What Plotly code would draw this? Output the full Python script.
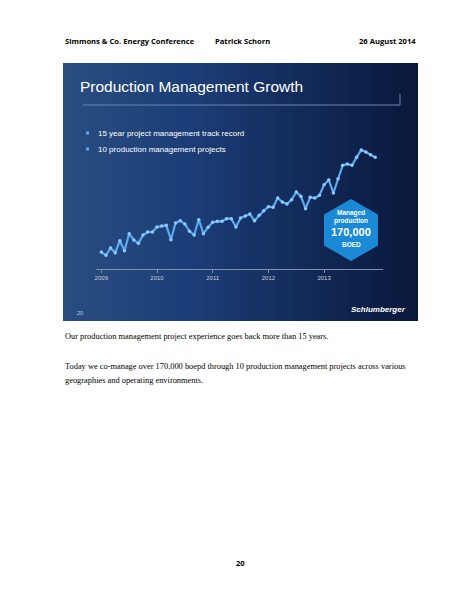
import plotly.graph_objects as go

start_year = 2009
# monthly managed production values (relative units), Jan 2009 - Dec 2013
values = [51, 41, 63, 49, 85, 55, 106, 87, 77, 102, 111, 111, 126, 129, 131, 88, 138, 145, 135, 113,
          102, 148, 106, 125, 140, 143, 143, 151, 151, 126, 153, 159, 165, 145, 161, 175, 187, 185,
          213, 201, 195, 208, 231, 218, 181, 215, 213, 221, 253, 267, 228, 271, 311, 315, 311, 335,
          357, 351, 343, 335]
months = list(range(len(values)))
x_vals = [start_year + m / 12 for m in months]
tick_years = [2009, 2010, 2011, 2012, 2013]

W, H = 464, 600
def px(x): return x / W
def py(y): return 1 - y / H

fig = go.Figure()
fig.add_trace(go.Scatter(x=x_vals, y=values, mode="lines+markers",
                         line=dict(color="#5aaaf0", width=2.2),
                         marker=dict(size=3.5, color="#8cc8ff"),
                         hoverinfo="skip", showlegend=False))

shapes = []
n = 40
x0, x1, y0, y1 = 55, 410, 55, 313
def lerp(a, b, t): return tuple(int(a[i] + (b[i] - a[i]) * t) for i in range(3))
c_left, c_mid, c_right = (42, 78, 128), (28, 62, 120), (10, 25, 60)
shapes.append(dict(type="rect", xref="paper", yref="paper", x0=px(x0), x1=px(x1), y0=py(y1), y1=py(y0),
                   fillcolor="rgb(10,25,60)", line=dict(width=0), layer="below"))
for k in range(n):
    t = k / (n - 1)
    c = lerp(c_left, c_mid, t / 0.35) if t < 0.35 else lerp(c_mid, c_right, (t - 0.35) / 0.65)
    xa = x0 + (x1 - x0) * k / n
    xb = x0 + (x1 - x0) * (k + 1) / n + 2
    shapes.append(dict(type="rect", xref="paper", yref="paper", x0=px(xa), x1=px(min(xb, x1)),
                       y0=py(y1), y1=py(y0), fillcolor="rgb(%d,%d,%d)" % c, line=dict(width=0), layer="below"))
shapes.append(dict(type="line", xref="paper", yref="paper", x0=px(75), x1=px(392), y0=py(97), y1=py(97),
                   line=dict(color="#6f85a8", width=1)))
shapes.append(dict(type="line", xref="paper", yref="paper", x0=px(392), x1=px(392), y0=py(86), y1=py(97),
                   line=dict(color="#6f85a8", width=1)))
for by in (125, 141):
    shapes.append(dict(type="rect", xref="paper", yref="paper", x0=px(78), x1=px(81), y0=py(by + 1.5), y1=py(by - 1.5),
                       fillcolor="#5aaaf0", line=dict(width=0)))
cx, cy, hw, hh = 343, 222, 27, 31
path = "M {} {} L {} {} L {} {} L {} {} L {} {} L {} {} Z".format(
    px(cx), py(cy - hh), px(cx + hw), py(cy - hh / 2), px(cx + hw), py(cy + hh / 2),
    px(cx), py(cy + hh), px(cx - hw), py(cy + hh / 2), px(cx - hw), py(cy - hh / 2))
shapes.append(dict(type="path", xref="paper", yref="paper", path=path, fillcolor="#1a8ad6", line=dict(width=0)))

ann = []
def t(x, y, s, size, color="white", bold=False, anchor="left", family="Liberation Sans"):
    ann.append(dict(x=px(x), y=py(y), xref="paper", yref="paper", text=("<b>%s</b>" % s) if bold else s,
                    showarrow=False, xanchor=anchor, yanchor="middle",
                    font=dict(size=size, color=color, family=family)))
hdr = "Open Sans"
t(55, 33, "Simmons & Co. Energy Conference", 7.6, "black", True, family=hdr)
t(205, 33, "Patrick Schorn", 7.6, "black", True, family=hdr)
t(410, 33, "26 August 2014", 7.6, "black", True, "right", family=hdr)
t(70, 78, "Production Management Growth", 15.5)
t(88, 125, "15 year project management track record", 8)
t(88, 141, "10 production management projects", 8)
t(343, 205, "Managed", 6.5, bold=True, anchor="center")
t(343, 213, "production", 6.5, bold=True, anchor="center")
t(343, 224, "170,000", 11, bold=True, anchor="center")
t(343, 236, "BOED", 6.5, bold=True, anchor="center")
t(67, 305, "20", 5.5, "#c8d0dc")
t(400, 301, "<i>Schlumberger</i>", 8, bold=True, anchor="right")
serif = "Liberation Serif"
t(55, 328, "Our production management project experience goes back more than 15 years.", 8.4, "black", family=serif)
t(55, 358, "Today we co-manage over 170,000 boepd through 10 production management projects across various", 8.4, "black", family=serif)
t(55, 372, "geographies and operating environments.", 8.4, "black", family=serif)
t(232, 555, "20", 7.6, "black", True, "center", family=hdr)

fig.update_layout(
    width=W, height=H, margin=dict(l=0, r=0, t=0, b=0),
    paper_bgcolor="white", plot_bgcolor="rgba(0,0,0,0)",
    shapes=shapes, annotations=ann,
    xaxis=dict(domain=[px(88), px(375)], range=[2008.905, 2014.057],
               tickvals=tick_years, ticktext=[str(v) for v in tick_years],
               showgrid=False, zeroline=False, showline=True, linecolor="#8090a8", linewidth=1,
               ticks="outside", ticklen=3, tickcolor="#8090a8",
               tickfont=dict(size=6, color="#c8d0dc", family="Liberation Sans")),
    yaxis=dict(domain=[py(261), py(131)], range=[0, 390], visible=False),
)
fig.write_html("out.html")
